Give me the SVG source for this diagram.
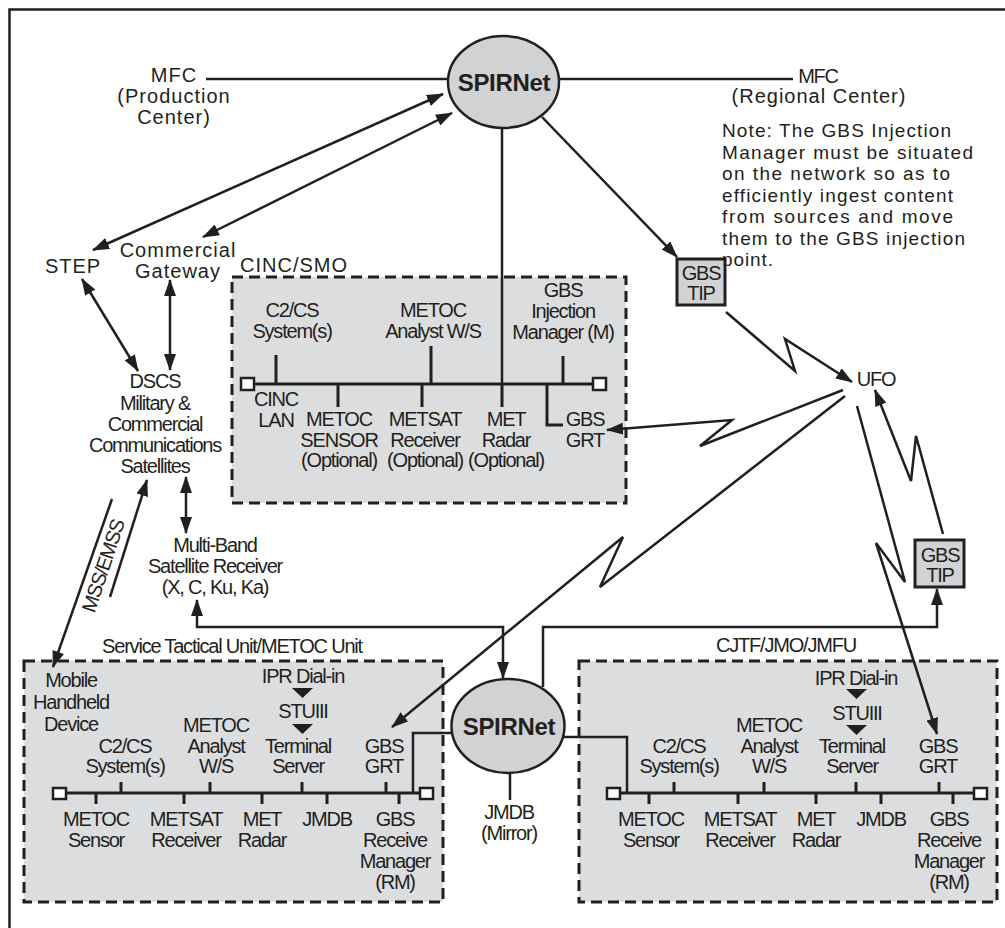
<svg xmlns="http://www.w3.org/2000/svg" width="1005" height="928" viewBox="0 0 1005 928">
<defs>
<style>
text{font-family:"Liberation Sans",Arial,Helvetica,sans-serif;fill:#231f20;font-size:20px}
.w{letter-spacing:1px}
.n{letter-spacing:-1.2px}
.m{text-anchor:middle}
.b{font-weight:bold;font-size:24px;letter-spacing:-0.3px}
.note{font-size:19px}
.ln{fill:none;stroke:#231f20;stroke-width:2.5}
.ar{marker-end:url(#ah)}
.ar2{marker-start:url(#ah);marker-end:url(#ah)}
.box{fill:#dcdddf;stroke:#231f20;stroke-width:3;stroke-dasharray:11 6}
.bus{stroke:#231f20;stroke-width:3;fill:none}
.sq{fill:#fff;stroke:#231f20;stroke-width:2.5}
.net{fill:#d1d2d4;stroke:#231f20;stroke-width:2.5}
.tip{fill:#d1d2d4;stroke:#231f20;stroke-width:3}
.tri{fill:#231f20}
</style>
<marker id="ah" viewBox="0 0 17 12" refX="16" refY="6" markerWidth="17" markerHeight="12" markerUnits="userSpaceOnUse" orient="auto-start-reverse">
<path d="M0,0 L17,6 L0,12 z" fill="#231f20"/>
</marker>
</defs>

<path d="M1005,9.5 H9.5 V928" fill="none" stroke="#231f20" stroke-width="2.5"/>

<g id="cinc-smo">
<rect class="box" x="232" y="277" width="394" height="226"/>
<text class="w" x="240" y="272">CINC/SMO</text>
<path class="bus" d="M255,384 H592 M276,355 V384 M431,346 V384 M563,356 V384 M338,384 V407 M422,384 V407 M502,384 V407 M547,384 V425 H563"/>
<rect class="sq" x="241" y="378" width="13" height="12"/>
<rect class="sq" x="593" y="378" width="13" height="12"/>
<text class="n m"><tspan x="292" y="317">C2/CS</tspan><tspan x="292" y="338">System(s)</tspan></text>
<text class="n m"><tspan x="433" y="317">METOC</tspan><tspan x="433" y="338">Analyst W/S</tspan></text>
<text class="n m"><tspan x="563" y="297">GBS</tspan><tspan x="563" y="318">Injection</tspan><tspan x="563" y="339">Manager (M)</tspan></text>
<text class="n m"><tspan x="276" y="406">CINC</tspan><tspan x="276" y="427">LAN</tspan></text>
<text class="n m"><tspan x="339" y="426">METOC</tspan><tspan x="339" y="447">SENSOR</tspan><tspan x="339" y="467">(Optional)</tspan></text>
<text class="n m"><tspan x="425" y="426">METSAT</tspan><tspan x="425" y="447">Receiver</tspan><tspan x="425" y="467">(Optional)</tspan></text>
<text class="n m"><tspan x="506" y="426">MET</tspan><tspan x="506" y="447">Radar</tspan><tspan x="506" y="467">(Optional)</tspan></text>
<text class="n m"><tspan x="585" y="426">GBS</tspan><tspan x="585" y="447">GRT</tspan></text>
</g>

<g id="service-tactical-unit">
<rect class="box" x="24" y="661" width="419" height="241"/>
<text class="n m" x="232" y="653">Service Tactical Unit/METOC Unit</text>
<path class="bus" d="M66,793 H420 M121,782 V793 M210,782 V793 M302,782 V793 M386,782 V793 M96,793 V804 M184,793 V804 M262,793 V804 M327,793 V804 M399,793 V804"/>
<rect class="sq" x="53" y="788" width="13" height="11"/>
<rect class="sq" x="420" y="788" width="13" height="11"/>
<text class="n m"><tspan x="71" y="687">Mobile</tspan><tspan x="71" y="709">Handheld</tspan><tspan x="71" y="731">Device</tspan></text>
<text class="n m" x="303" y="683">IPR Dial-in</text>
<path class="tri" d="M292,688 H313 L302.5,698 z"/>
<text class="n m" x="303" y="718">STUIII</text>
<path class="tri" d="M292,724 H313 L302.5,734 z"/>
<text class="n m"><tspan x="298" y="753">Terminal</tspan><tspan x="298" y="773">Server</tspan></text>
<text class="n m"><tspan x="216" y="732">METOC</tspan><tspan x="216" y="753">Analyst</tspan><tspan x="216" y="773">W/S</tspan></text>
<text class="n m"><tspan x="125" y="753">C2/CS</tspan><tspan x="125" y="773">System(s)</tspan></text>
<text class="n m"><tspan x="384" y="753">GBS</tspan><tspan x="384" y="773">GRT</tspan></text>
<text class="n m"><tspan x="96" y="826">METOC</tspan><tspan x="96" y="847">Sensor</tspan></text>
<text class="n m"><tspan x="186" y="826">METSAT</tspan><tspan x="186" y="847">Receiver</tspan></text>
<text class="n m"><tspan x="262" y="826">MET</tspan><tspan x="262" y="847">Radar</tspan></text>
<text class="n m" x="327" y="826">JMDB</text>
<text class="n m"><tspan x="395" y="826">GBS</tspan><tspan x="395" y="847">Receive</tspan><tspan x="395" y="868">Manager</tspan><tspan x="395" y="889">(RM)</tspan></text>
</g>

<g id="cjtf-jmo-jmfu">
<rect class="box" x="579" y="661" width="418" height="241"/>
<text class="n m" x="786" y="652">CJTF/JMO/JMFU</text>
<path class="bus" d="M620,793 H974 M674,782 V793 M764,782 V793 M856,782 V793 M939,782 V793 M649,793 V804 M738,793 V804 M816,793 V804 M881,793 V804 M953,793 V804"/>
<rect class="sq" x="607" y="788" width="13" height="11"/>
<rect class="sq" x="974" y="788" width="13" height="11"/>
<text class="n m" x="856" y="685">IPR Dial-in</text>
<path class="tri" d="M846,689 H867 L856.5,699 z"/>
<text class="n m" x="857" y="720">STUIII</text>
<path class="tri" d="M846,725 H867 L856.5,735 z"/>
<text class="n m"><tspan x="852" y="753">Terminal</tspan><tspan x="852" y="773">Server</tspan></text>
<text class="n m"><tspan x="769" y="732">METOC</tspan><tspan x="769" y="753">Analyst</tspan><tspan x="769" y="773">W/S</tspan></text>
<text class="n m"><tspan x="679" y="753">C2/CS</tspan><tspan x="679" y="773">System(s)</tspan></text>
<text class="n m"><tspan x="938" y="753">GBS</tspan><tspan x="938" y="773">GRT</tspan></text>
<text class="n m"><tspan x="651" y="826">METOC</tspan><tspan x="651" y="847">Sensor</tspan></text>
<text class="n m"><tspan x="740" y="826">METSAT</tspan><tspan x="740" y="847">Receiver</tspan></text>
<text class="n m"><tspan x="816" y="826">MET</tspan><tspan x="816" y="847">Radar</tspan></text>
<text class="n m" x="881" y="826">JMDB</text>
<text class="n m"><tspan x="949" y="826">GBS</tspan><tspan x="949" y="847">Receive</tspan><tspan x="949" y="868">Manager</tspan><tspan x="949" y="889">(RM)</tspan></text>
</g>

<g id="connectors">
<path class="ln" d="M206,79 H449"/>
<path class="ln" d="M559,79 H793"/>
<path class="ln" d="M502,127 V384"/>
<path class="ln ar2" d="M93,250 L443,94"/>
<path class="ln ar2" d="M203,237 L452,113"/>
<path class="ln ar" d="M542,117 L677,257"/>
<path class="ln ar2" d="M82,279 L138,371"/>
<path class="ln ar2" d="M170,280 V370"/>
<path class="ln ar2" d="M186,477 V533"/>
<path class="ln ar" d="M112,499 L53,667"/>
<path class="ln ar" d="M110,597 L147,480"/>
<path class="ln ar" d="M726,312 L795,371 L785,339 L852,382"/>
<path class="ln ar" d="M843,390 L700,446 L732,420 L607,430"/>
<path class="ln ar" d="M845,396 L600,587 L623,537 L392,727"/>
<path class="ln ar" d="M857,406 L905,582 L876,543 L937,734"/>
<path class="ln ar" d="M943,534 L916,436 L911,481 L875,390"/>
<path class="ln ar2" d="M197,600 V627 H503 V678"/>
<path class="ln ar" d="M543,687 V627 H937 V589"/>
<path class="ln" d="M452,733 H413 V793"/>
<path class="ln" d="M564,737 H627 V793"/>
<path class="ln" d="M510,772 V800"/>
</g>

<g id="spirnet-top">
<ellipse class="net" cx="503.5" cy="82" rx="55.5" ry="46"/>
<text class="b m" x="504" y="91">SPIRNet</text>
</g>
<g id="spirnet-bottom">
<ellipse class="net" cx="508" cy="726" rx="56.5" ry="47"/>
<text class="b m" x="509" y="735">SPIRNet</text>
</g>

<g id="mfc-production">
<text class="w m"><tspan x="174" y="82">MFC</tspan><tspan x="174" y="103">(Production</tspan><tspan x="174" y="124">Center)</tspan></text>
</g>
<g id="mfc-regional">
<text class="n m" x="818" y="83">MFC</text>
<text class="w m" x="819" y="103">(Regional Center)</text>
</g>
<g id="note">
<text class="note"><tspan x="722" y="137" textLength="229" lengthAdjust="spacing">Note: The GBS Injection</tspan><tspan x="722" y="158.5" textLength="251" lengthAdjust="spacing">Manager must be situated</tspan><tspan x="722" y="180" textLength="228" lengthAdjust="spacing">on the network so as to</tspan><tspan x="722" y="201.5" textLength="231" lengthAdjust="spacing">efficiently ingest content</tspan><tspan x="722" y="223" textLength="231" lengthAdjust="spacing">from sources and move</tspan><tspan x="722" y="244.5" textLength="243" lengthAdjust="spacing">them to the GBS injection</tspan><tspan x="722" y="266" textLength="51" lengthAdjust="spacing">point.</tspan></text>
</g>
<g id="step"><text class="w m" x="73" y="273">STEP</text></g>
<g id="commercial-gateway"><text class="w m"><tspan x="178" y="257">Commercial</tspan><tspan x="178" y="278">Gateway</tspan></text></g>
<g id="dscs">
<text class="n m"><tspan x="155" y="388">DSCS</tspan><tspan x="155" y="410">Military &amp;</tspan><tspan x="155" y="431">Commercial</tspan><tspan x="155" y="452">Communications</tspan><tspan x="155" y="473">Satellites</tspan></text>
</g>
<g id="mss-emss"><text class="n m" transform="translate(103,566) rotate(-71.5)" x="0" y="7">MSS/EMSS</text></g>
<g id="multi-band-receiver">
<text class="n m"><tspan x="215" y="552">Multi-Band</tspan><tspan x="215" y="573">Satellite Receiver</tspan><tspan x="215" y="594">(X, C, Ku, Ka)</tspan></text>
</g>
<g id="gbs-tip-top">
<rect class="tip" x="677" y="259" width="48" height="46"/>
<text class="n m"><tspan x="701" y="280">GBS</tspan><tspan x="701" y="300">TIP</tspan></text>
</g>
<g id="gbs-tip-bottom">
<rect class="tip" x="915" y="540" width="49" height="47"/>
<text class="n m"><tspan x="940" y="562">GBS</tspan><tspan x="940" y="582">TIP</tspan></text>
</g>
<g id="ufo"><text class="n m" x="876" y="386">UFO</text></g>
<g id="jmdb-mirror"><text class="n m"><tspan x="509" y="819">JMDB</tspan><tspan x="509" y="840">(Mirror)</tspan></text></g>
</svg>
